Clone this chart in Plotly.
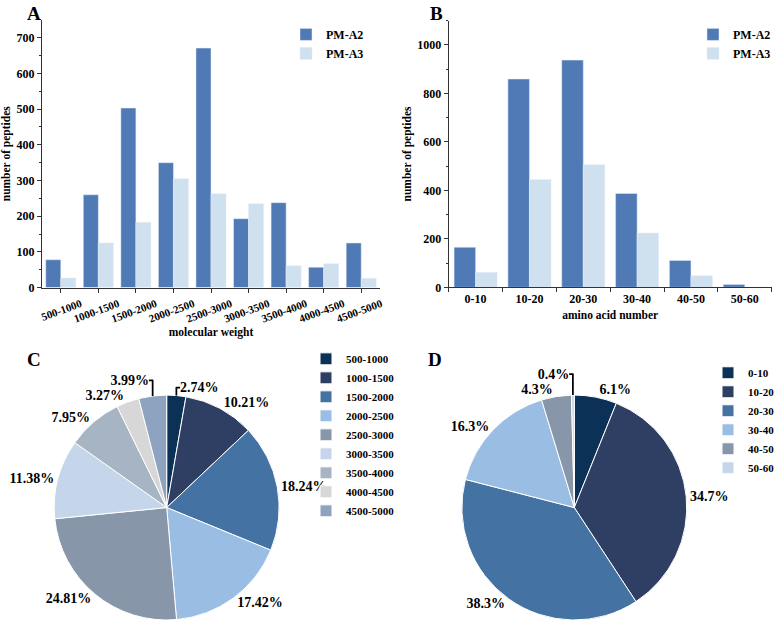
import plotly.graph_objects as go

# ---- data ----
mw_categories = ["500-1000", "1000-1500", "1500-2000", "2000-2500", "2500-3000",
                 "3000-3500", "3500-4000", "4000-4500", "4500-5000"]
mw_a2 = [78, 260, 503, 350, 671, 193, 238, 57, 125]
mw_a3 = [27, 125, 183, 305, 263, 235, 61, 67, 26]

aa_categories = ["0-10", "10-20", "20-30", "30-40", "40-50", "50-60"]
aa_a2 = [165, 859, 937, 387, 111, 12]
aa_a3 = [62, 445, 506, 224, 48, 0]

mw_percent = [2.74, 10.21, 18.24, 17.42, 24.81, 11.38, 7.95, 3.27, 3.99]
aa_percent = [6.1, 34.7, 38.3, 16.3, 4.3, 0.4]

# ---- style ----
FONT = "Liberation Serif"
C_A2 = "#4f7ab5"
C_A3 = "#cfe0ef"
pie_colors_c = ["#0c3157", "#2e3f63", "#4472a2", "#9abde3", "#8796a8",
                "#c5d6ea", "#a7b4c3", "#d7d7d7", "#8ea3bf"]
pie_colors_d = ["#0c3157", "#2e3f63", "#4472a2", "#9abde3", "#8796a8", "#c5d6ea"]

W, H = 784, 625
def px(x0, x1):
    return [x0 / W, x1 / W]
def py(y_top, y_bot):
    return [1 - y_bot / H, 1 - y_top / H]

fig = go.Figure()

# Panel A bars
fig.add_trace(go.Bar(x=mw_categories, y=mw_a2, name="PM-A2", marker_color=C_A2,
                     xaxis="x", yaxis="y", legend="legend"))
fig.add_trace(go.Bar(x=mw_categories, y=mw_a3, name="PM-A3", marker_color=C_A3,
                     xaxis="x", yaxis="y", legend="legend"))
# Panel B bars
fig.add_trace(go.Bar(x=aa_categories, y=aa_a2, name="PM-A2", marker_color=C_A2,
                     xaxis="x2", yaxis="y2", legend="legend2"))
fig.add_trace(go.Bar(x=aa_categories, y=aa_a3, name="PM-A3", marker_color=C_A3,
                     xaxis="x2", yaxis="y2", legend="legend2"))

pie_text_font = dict(family=FONT, size=14, color="black", weight="bold")
# Panel C pie
fig.add_trace(go.Pie(labels=mw_categories, values=mw_percent, sort=False,
                     direction="clockwise", rotation=0,
                     marker=dict(colors=pie_colors_c, line=dict(color="white", width=1)),
                     texttemplate="%{value}%", textposition="outside",
                     outsidetextfont=pie_text_font,
                     domain=dict(x=px(53.7, 279.7), y=py(397, 623)),
                     legend="legend3", showlegend=True))
# Panel D pie
fig.add_trace(go.Pie(labels=aa_categories, values=aa_percent, sort=False,
                     direction="clockwise", rotation=0,
                     marker=dict(colors=pie_colors_d, line=dict(color="white", width=1)),
                     texttemplate="%{value}%", textposition="outside",
                     outsidetextfont=pie_text_font,
                     domain=dict(x=px(461.3, 687.3), y=py(397, 623)),
                     legend="legend4", showlegend=True))

ytickfont = dict(family=FONT, size=12, color="black", weight="bold")
xtickfont_a = dict(family=FONT, size=11, color="black", weight="bold")
xtickfont_b = dict(family=FONT, size=12, color="black", weight="bold")
titlefont = dict(family=FONT, size=11.5, color="black", weight="bold")
axis_common = dict(showline=True, linecolor="#333", linewidth=1, ticks="outside",
                   ticklen=4, tickcolor="#333", showgrid=False, zeroline=False,
                   automargin=False)

legend_font = dict(family=FONT, size=12, color="black", weight="bold")
pie_legend_font = dict(family=FONT, size=11, color="black", weight="bold")
panel_font = dict(family=FONT, size=19, color="black", weight="bold")

fig.update_layout(
    width=W, height=H,
    margin=dict(l=0, r=0, t=0, b=0),
    paper_bgcolor="white", plot_bgcolor="white",
    barmode="group", bargap=0.2, bargroupgap=0,
    font=dict(family=FONT, color="black"),
    xaxis=dict(domain=px(42, 380), anchor="y", tickangle=-20, tickfont=xtickfont_a,
               ticklabelshift=20, ticklabelstandoff=1,
               title=dict(text="molecular weight", font=titlefont, standoff=4),
               **axis_common),
    yaxis=dict(domain=py(20, 289), anchor="x", range=[0, 750], dtick=100,
               tickfont=ytickfont,
               minor=dict(ticks="outside", ticklen=2, dtick=50, tickcolor="#333"),
               title=dict(text="number of peptides", font=titlefont, standoff=3),
               **axis_common),
    xaxis2=dict(domain=px(448.7, 771.7), anchor="y2", tickson="boundaries",
                tickfont=xtickfont_b,
                title=dict(text="amino acid number", font=titlefont, standoff=6),
                **axis_common),
    yaxis2=dict(domain=py(20.7, 288.7), anchor="x2", range=[0, 1100], dtick=200,
                tickfont=ytickfont,
                minor=dict(ticks="outside", ticklen=2, dtick=100, tickcolor="#333"),
                title=dict(text="number of peptides", font=titlefont, standoff=3),
                **axis_common),
    legend=dict(x=286 / W, y=1 - 20 / H, xanchor="left", yanchor="top",
                font=legend_font, bgcolor="rgba(0,0,0,0)", itemwidth=30,
                tracegroupgap=0),
    legend2=dict(x=693 / W, y=1 - 20 / H, xanchor="left", yanchor="top",
                 font=legend_font, bgcolor="rgba(0,0,0,0)", itemwidth=30,
                 tracegroupgap=0),
    legend3=dict(x=306 / W, y=1 - 346 / H, xanchor="left", yanchor="top",
                 font=pie_legend_font, bgcolor="rgba(0,0,0,0)", itemwidth=30),
    legend4=dict(x=708 / W, y=1 - 360 / H, xanchor="left", yanchor="top",
                 font=pie_legend_font, bgcolor="rgba(0,0,0,0)", itemwidth=30),
    annotations=[
        dict(text="A", x=25 / W, y=1 - 1 / H, xref="paper", yref="paper",
             xanchor="left", yanchor="top", showarrow=False, font=panel_font),
        dict(text="B", x=428 / W, y=1 - 1 / H, xref="paper", yref="paper",
             xanchor="left", yanchor="top", showarrow=False, font=panel_font),
        dict(text="C", x=25 / W, y=1 - 349 / H, xref="paper", yref="paper",
             xanchor="left", yanchor="top", showarrow=False, font=panel_font),
        dict(text="D", x=426 / W, y=1 - 349 / H, xref="paper", yref="paper",
             xanchor="left", yanchor="top", showarrow=False, font=panel_font),
    ],
)

fig.write_html("out.html")
